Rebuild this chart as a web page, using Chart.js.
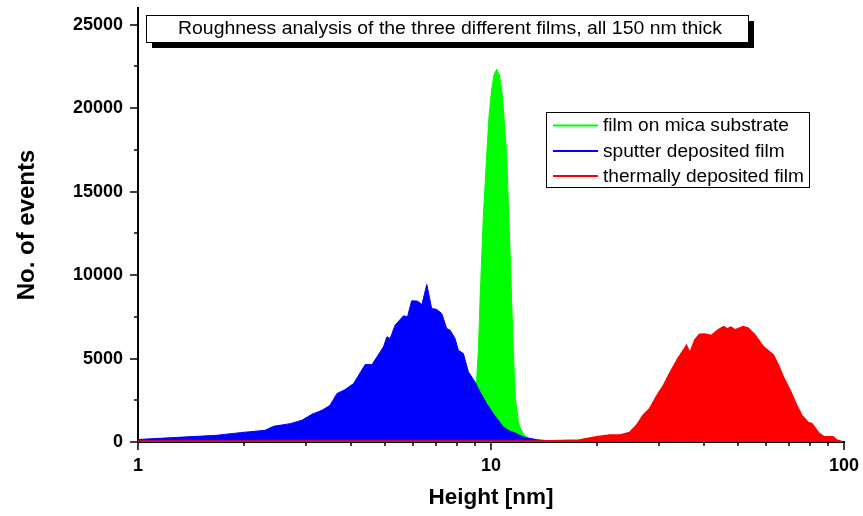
<!DOCTYPE html>
<html>
<head>
<meta charset="utf-8">
<script src="https://cdn.jsdelivr.net/npm/chart.js@4.4.0/dist/chart.umd.min.js"></script>
<style>
  html, body { margin: 0; padding: 0; background: #fff; }
</style>
</head>
<body>
<canvas id="roughChart" width="863" height="516"></canvas>
<script>
// height distributions (x in nm, y = no. of events)
const micaX = [8.0, 8.6, 8.9, 9.1, 9.21, 9.31, 9.51, 9.73, 9.87, 10.04, 10.2, 10.38, 10.56, 10.73, 10.88, 11.07, 11.19, 11.32, 11.44, 11.57, 11.72, 11.95, 12.07, 12.35, 12.7, 13.5, 15.0];
const micaY = [0, 400, 1800, 3600, 5500, 8500, 13500, 17300, 19500, 21100, 22000, 22340, 22000, 21100, 19500, 17300, 14500, 11500, 8500, 5500, 2600, 1300, 900, 500, 220, 100, 0];

const sputterX = [1.0, 1.3, 1.67, 1.95, 2.29, 2.42, 2.70, 2.91, 3.11, 3.32, 3.50, 3.66, 3.86, 4.08, 4.40, 4.60, 4.96, 5.07, 5.18, 5.35, 5.65, 5.80, 5.96, 6.19, 6.37, 6.58, 6.79, 7.02, 7.25, 7.49, 7.66, 7.91, 8.08, 8.35, 8.63, 9.01, 9.31, 9.72, 10.15, 10.83, 11.2, 11.82, 12.35, 13.47, 15.0, 17.0];
const sputterY = [150, 280, 400, 560, 700, 940, 1100, 1300, 1660, 1900, 2200, 2900, 3140, 3500, 4640, 4640, 5700, 6300, 6200, 7000, 7560, 7500, 8460, 8440, 8240, 9440, 8000, 7940, 7700, 6800, 6700, 6200, 5500, 5300, 4200, 3600, 3000, 2300, 1700, 900, 700, 500, 300, 140, 40, 0];

const thermalX = [1.0, 5, 10, 14, 17.8, 19.9, 21.7, 23.2, 24.7, 25.9, 27.0, 28.2, 29.8, 30.7, 32.1, 33.9, 35.8, 36.6, 37.8, 39.0, 40.3, 42.1, 44.0, 45.6, 46.7, 47.8, 49.1, 51.8, 53.5, 55.9, 59.0, 63.0, 65.1, 67.2, 70.2, 73.3, 75.8, 79.1, 80.9, 83.6, 85.0, 87.8, 93.1, 95.2, 99.2];
const thermalY = [40, 40, 40, 50, 100, 300, 400, 400, 560, 1000, 1600, 2000, 2900, 3300, 4100, 5000, 5760, 5300, 6100, 6440, 6460, 6360, 6700, 6900, 6760, 6860, 6700, 6900, 6800, 6400, 5700, 5200, 4600, 3900, 3100, 2200, 1600, 1160, 1100, 700, 500, 300, 300, 100, 0];

const seriesNames = ['film on mica substrate', 'sputter deposited film', 'thermally deposited film'];
const seriesColors = ['#00ff00', '#0000ff', '#ff0000'];
const chartTitle = 'Roughness analysis of the three different films, all 150 nm thick';

const xTickLabels = [1, 10, 100];
const xMinorTicks = [2, 3, 4, 5, 6, 7, 8, 9, 20, 30, 40, 50, 60, 70, 80, 90];
const yTickLabels = [0, 5000, 10000, 15000, 20000, 25000];
const yMinorTicks = [2500, 7500, 12500, 17500, 22500];

function pts(xs, ys) {
  return xs.map((x, i) => ({ x: x, y: ys[i] }));
}

const FONT = '"Liberation Sans", Arial, sans-serif';

// ticks, title box and legend box
const decorPlugin = {
  id: 'decor',
  afterDraw(chart) {
    const ctx = chart.ctx;
    const xs = chart.scales.x, ys = chart.scales.y;
    const area = chart.chartArea;
    ctx.save();
    ctx.strokeStyle = '#000';
    ctx.lineWidth = 1.5;
    ctx.beginPath();
    xTickLabels.forEach(v => { const p = Math.round(xs.getPixelForValue(v)); ctx.moveTo(p, area.bottom); ctx.lineTo(p, area.bottom + 8); });
    xMinorTicks.forEach(v => { const p = Math.round(xs.getPixelForValue(v)); ctx.moveTo(p, area.bottom); ctx.lineTo(p, area.bottom + 4); });
    yTickLabels.forEach(v => { const p = Math.round(ys.getPixelForValue(v)); ctx.moveTo(area.left, p); ctx.lineTo(area.left - 8, p); });
    yMinorTicks.forEach(v => { const p = Math.round(ys.getPixelForValue(v)); ctx.moveTo(area.left, p); ctx.lineTo(area.left - 4, p); });
    ctx.stroke();

    // title box with drop shadow
    const tb = { l: 146, t: 15, r: 748, b: 42 };
    ctx.fillStyle = '#000';
    ctx.fillRect(tb.l + 6, tb.t + 6, tb.r - tb.l, tb.b - tb.t);
    ctx.fillStyle = '#fff';
    ctx.fillRect(tb.l, tb.t, tb.r - tb.l, tb.b - tb.t);
    ctx.lineWidth = 1;
    ctx.strokeRect(tb.l + 0.5, tb.t + 0.5, tb.r - tb.l, tb.b - tb.t);
    ctx.font = '17.5px ' + FONT;
    ctx.fillStyle = '#000';
    ctx.textBaseline = 'middle';
    ctx.textAlign = 'center';
    let sx = 544 / ctx.measureText(chartTitle).width;
    ctx.save();
    ctx.translate(450, 29);
    ctx.scale(sx, 1);
    ctx.fillText(chartTitle, 0, 0);
    ctx.restore();

    // legend
    const lb = { l: 546, t: 112, r: 809, b: 187 };
    ctx.fillStyle = '#fff';
    ctx.fillRect(lb.l, lb.t, lb.r - lb.l, lb.b - lb.t);
    ctx.strokeStyle = '#000';
    ctx.lineWidth = 1;
    ctx.strokeRect(lb.l + 0.5, lb.t + 0.5, lb.r - lb.l, lb.b - lb.t);
    ctx.textAlign = 'left';
    sx = 186 / ctx.measureText(seriesNames[0]).width;
    const rows = [125.5, 151, 176];
    seriesNames.forEach((name, i) => {
      ctx.strokeStyle = seriesColors[i];
      ctx.lineWidth = 2;
      ctx.beginPath();
      ctx.moveTo(553, rows[i]);
      ctx.lineTo(598, rows[i]);
      ctx.stroke();
      ctx.save();
      ctx.translate(603, rows[i] + 1);
      ctx.scale(sx, 1);
      ctx.fillStyle = '#000';
      ctx.fillText(name, 0, 0);
      ctx.restore();
    });
    ctx.restore();
  }
};

const mkSet = (i, data, ord) => ({
  label: seriesNames[i],
  data: data,
  borderColor: seriesColors[i],
  backgroundColor: seriesColors[i],
  borderWidth: i === 2 ? 2 : 1,
  pointRadius: 0,
  tension: 0,
  fill: 'origin',
  order: ord
});

new Chart(document.getElementById('roughChart'), {
  type: 'line',
  data: {
    datasets: [
      mkSet(0, pts(micaX, micaY), 2),
      mkSet(1, pts(sputterX, sputterY), 1),
      mkSet(2, pts(thermalX, thermalY), 0)
    ]
  },
  options: {
    responsive: false,
    animation: false,
    devicePixelRatio: 1,
    layout: { padding: { top: 8, right: 19, left: 0, bottom: 0 } },
    plugins: { legend: { display: false }, tooltip: { enabled: false }, title: { display: false } },
    scales: {
      x: {
        type: 'logarithmic',
        min: 1,
        max: 100,
        afterBuildTicks: s => { s.ticks = xTickLabels.map(v => ({ value: v })); },
        afterFit: s => { s.height = 74; s.paddingLeft = 0; s.paddingRight = 0; },
        grid: { display: false, drawTicks: false },
        border: { display: true, color: '#000', width: 2 },
        ticks: {
          color: '#000',
          padding: 13,
          maxRotation: 0,
          autoSkip: false,
          font: { family: FONT, size: 18, weight: 'bold' },
          callback: v => String(v)
        },
        title: {
          display: true,
          text: 'Height [nm]',
          color: '#000',
          padding: { top: 0, bottom: 5 },
          font: { family: FONT, size: 22.5, weight: 'bold' }
        }
      },
      y: {
        min: 0,
        max: 26000,
        afterBuildTicks: s => { s.ticks = yTickLabels.map(v => ({ value: v })); },
        afterFit: s => { s.width = 138; s.paddingTop = 0; s.paddingBottom = 0; },
        grid: { display: false, drawTicks: false },
        border: { display: true, color: '#000', width: 2 },
        ticks: {
          color: '#000',
          padding: 15,
          font: { family: FONT, size: 18, weight: 'bold' },
          callback: v => String(v)
        },
        title: {
          display: true,
          text: 'No. of events',
          color: '#000',
          padding: { top: 13, bottom: 0 },
          font: { family: FONT, size: 24, weight: 'bold' }
        }
      }
    }
  },
  plugins: [decorPlugin]
});
</script>
</body>
</html>
